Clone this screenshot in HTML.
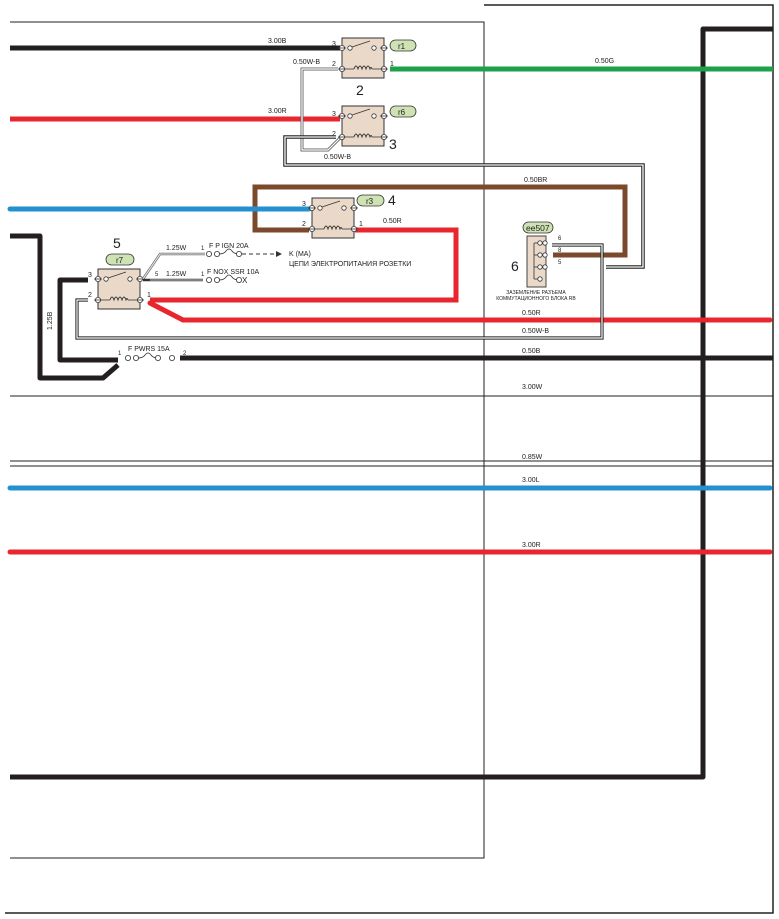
<!DOCTYPE html>
<html><head><meta charset="utf-8"><style>
html,body{margin:0;padding:0;background:#fff;}
svg{display:block;}
text{font-family:"Liberation Sans","DejaVu Sans",sans-serif;fill:#222;}
</style></head><body>
<svg width="779" height="919" viewBox="0 0 779 919" xmlns="http://www.w3.org/2000/svg">
<defs>
<g id="relay">
  <rect x="0" y="0" width="42" height="40" fill="#ead9c8" stroke="#333" stroke-width="1"/>
  <circle cx="0" cy="10" r="2.6" fill="#fff" stroke="#333" stroke-width="0.8"/>
  <circle cx="0" cy="31" r="2.6" fill="#fff" stroke="#333" stroke-width="0.8"/>
  <circle cx="42" cy="10" r="2.6" fill="#fff" stroke="#333" stroke-width="0.8"/>
  <circle cx="42" cy="31" r="2.6" fill="#fff" stroke="#333" stroke-width="0.8"/>
  <line x1="-4" y1="10" x2="4" y2="10" stroke="#333" stroke-width="0.8"/>
  <line x1="-4" y1="31" x2="4" y2="31" stroke="#333" stroke-width="0.8"/>
  <line x1="38" y1="10" x2="46" y2="10" stroke="#333" stroke-width="0.8"/>
  <line x1="38" y1="31" x2="46" y2="31" stroke="#333" stroke-width="0.8"/>
  <circle cx="8" cy="10" r="2.2" fill="#fff" stroke="#333" stroke-width="0.8"/>
  <line x1="10" y1="9" x2="28" y2="3" stroke="#333" stroke-width="0.8"/>
  <circle cx="32" cy="10" r="2.2" fill="#fff" stroke="#333" stroke-width="0.8"/>
  <path d="M4 31 H12 M30 31 H38" stroke="#333" stroke-width="0.8"/>
  <path d="M12 31 q2 -6 4 0 q2 -6 4 0 q2 -6 4 0 q2 -6 4 0 q1 -3 2 0" fill="none" stroke="#333" stroke-width="0.9"/>
</g>
<g id="fuse">
  <circle cx="0" cy="0" r="2.6" fill="#fff" stroke="#333" stroke-width="0.8"/>
  <circle cx="8" cy="0" r="2.6" fill="#fff" stroke="#333" stroke-width="0.8"/>
  <path d="M10 0 q5 0 7 -3 q3 -4 6 0 q2 3 7 3" fill="none" stroke="#333" stroke-width="0.8"/>
  <circle cx="30" cy="0" r="2.6" fill="#fff" stroke="#333" stroke-width="0.8"/>
</g>
</defs>

<!-- frames -->
<path d="M484 5 H773 V913 H5" fill="none" stroke="#222" stroke-width="1.5"/>
<path d="M10 22 H484 V858 H10" fill="none" stroke="#222" stroke-width="1"/>

<!-- thick black frame wire -->
<path d="M773 29 H703 V777 H10" fill="none" stroke="#231f20" stroke-width="5" stroke-linejoin="round"/>

<!-- lower thin lines -->
<line x1="10" y1="396" x2="773" y2="396" stroke="#222" stroke-width="1"/>
<text x="522" y="389" font-size="7">3.00W</text>
<line x1="10" y1="461" x2="773" y2="461" stroke="#222" stroke-width="1"/>
<line x1="10" y1="466" x2="773" y2="466" stroke="#222" stroke-width="1"/>
<text x="522" y="459" font-size="7">0.85W</text>
<line x1="10" y1="488" x2="770" y2="488" stroke="#2391cf" stroke-width="5" stroke-linecap="round"/>
<text x="522" y="482" font-size="7">3.00L</text>
<line x1="10" y1="552" x2="770" y2="552" stroke="#e8262d" stroke-width="5" stroke-linecap="round"/>
<text x="522" y="547" font-size="7">3.00R</text>

<!-- top wires -->
<line x1="10" y1="48" x2="340" y2="48" stroke="#231f20" stroke-width="5"/>
<text x="268" y="43" font-size="7">3.00B</text>
<line x1="390" y1="69" x2="773" y2="69" stroke="#1ea14a" stroke-width="5"/>
<text x="595" y="63" font-size="7">0.50G</text>
<line x1="10" y1="119" x2="340" y2="119" stroke="#e8262d" stroke-width="5"/>
<text x="268" y="113" font-size="7">3.00R</text>

<!-- gray double 0.50W-B -->
<path d="M338 69 H302 V150 H328 L340 138" fill="none" stroke="#666" stroke-width="3"/>
<path d="M338 69 H302 V150 H328 L340 138" fill="none" stroke="#fff" stroke-width="1.2"/>
<text x="293" y="64" font-size="7">0.50W-B</text>
<text x="324" y="159" font-size="7">0.50W-B</text>

<!-- black double from relay 3 to connector 6 pin5 -->
<path d="M336 137 H285 V165 H643 V267 H606" fill="none" stroke="#222" stroke-width="3.5"/>
<path d="M336 137 H285 V165 H643 V267 H606" fill="none" stroke="#fff" stroke-width="1.3"/>

<!-- brown -->
<path d="M309 230 H255 V187 H625 V255 H553" fill="none" stroke="#7b4a2d" stroke-width="5" stroke-linejoin="miter"/>
<text x="524" y="182" font-size="7">0.50BR</text>

<!-- blue -->
<line x1="10" y1="209" x2="309" y2="209" stroke="#2391cf" stroke-width="5" stroke-linecap="round"/>

<!-- red from relay 4 to relay 5 -->
<path d="M355 230 H456 V300 H150" fill="none" stroke="#e8262d" stroke-width="5"/>
<text x="383" y="223" font-size="7">0.50R</text>
<path d="M150 303 L183 320 H770" fill="none" stroke="#e8262d" stroke-width="5" stroke-linecap="round"/>
<text x="522" y="315" font-size="7">0.50R</text>

<!-- thin black 0.50W-B double -->
<path d="M88 300 H77 V338 H602 V245 H552" fill="none" stroke="#222" stroke-width="3.2"/>
<path d="M88 300 H77 V338 H602 V245 H552" fill="none" stroke="#fff" stroke-width="1.2"/>
<text x="522" y="333" font-size="7">0.50W-B</text>

<!-- 1.25B thick -->
<path d="M10 236 H40 V378 H103 L118 365" fill="none" stroke="#231f20" stroke-width="5" stroke-linejoin="round"/>
<path d="M88 280 H60 V360 H118" fill="none" stroke="#231f20" stroke-width="5" stroke-linejoin="round"/>
<text x="0" y="0" font-size="7" transform="translate(52 330) rotate(-90)">1.25B</text>
<!-- 0.50B -->
<line x1="180" y1="358" x2="773" y2="358" stroke="#231f20" stroke-width="5"/>
<text x="522" y="353" font-size="7">0.50B</text>
<use href="#fuse" x="128" y="358"/>
<circle cx="172" cy="358" r="2.6" fill="#fff" stroke="#333" stroke-width="0.8"/>
<text x="118" y="355" font-size="6">1</text>
<text x="183" y="355" font-size="6">2</text>
<text x="128" y="351" font-size="7">F PWRS 15A</text>

<!-- relays -->
<use href="#relay" x="342" y="38"/>
<text x="332" y="46" font-size="7">3</text>
<text x="332" y="66" font-size="7">2</text>
<text x="390" y="66" font-size="7">1</text>
<text x="356" y="95" font-size="14">2</text>
<rect x="390" y="40" width="26" height="11" rx="5.5" fill="#cfe2b3" stroke="#333" stroke-width="0.8"/>
<text x="398" y="49" font-size="8">r1</text>

<use href="#relay" x="342" y="106"/>
<text x="332" y="116" font-size="7">3</text>
<text x="332" y="136" font-size="7">2</text>
<text x="389" y="149" font-size="14">3</text>
<rect x="390" y="106" width="26" height="11" rx="5.5" fill="#cfe2b3" stroke="#333" stroke-width="0.8"/>
<text x="398" y="115" font-size="8">r6</text>

<use href="#relay" x="312" y="198"/>
<text x="302" y="206" font-size="7">3</text>
<text x="302" y="226" font-size="7">2</text>
<text x="359" y="226" font-size="7">1</text>
<text x="388" y="205" font-size="14">4</text>
<rect x="357" y="195" width="27" height="11" rx="5.5" fill="#cfe2b3" stroke="#333" stroke-width="0.8"/>
<text x="366" y="204" font-size="8">r3</text>

<use href="#relay" x="98" y="269"/>
<text x="88" y="277" font-size="7">3</text>
<text x="88" y="297" font-size="7">2</text>
<text x="147" y="297" font-size="7">1</text>
<text x="113" y="248" font-size="14">5</text>
<rect x="106" y="254" width="28" height="11" rx="5.5" fill="#cfe2b3" stroke="#333" stroke-width="0.8"/>
<text x="116" y="263" font-size="8">r7</text>

<!-- fuses near relay 5 -->
<path d="M143 279 L160 254 H205" fill="none" stroke="#777" stroke-width="2.5"/>
<path d="M143 279 L160 254 H205" fill="none" stroke="#fff" stroke-width="0.8"/>
<text x="166" y="250" font-size="7">1.25W</text>
<text x="201" y="250" font-size="6">1</text>
<use href="#fuse" x="209" y="254"/>
<text x="209" y="248" font-size="7">F P IGN 20A</text>
<line x1="242" y1="254" x2="276" y2="254" stroke="#333" stroke-width="0.9" stroke-dasharray="4 3"/>
<path d="M276 251 L282 254 L276 257 Z" fill="#333"/>
<text x="289" y="256" font-size="7">K (MA)</text>
<text x="289" y="266" font-size="7">ЦЕПИ ЭЛЕКТРОПИТАНИЯ РОЗЕТКИ</text>

<path d="M143 280 L150 280 H203" fill="none" stroke="#333" stroke-width="2.5"/>
<path d="M150 280 H203" fill="none" stroke="#fff" stroke-width="0.8"/>
<text x="155" y="276" font-size="6">5</text>
<text x="166" y="276" font-size="7">1.25W</text>
<text x="201" y="276" font-size="6">1</text>
<use href="#fuse" x="209" y="280"/>
<text x="207" y="274" font-size="7">F NOX SSR 10A</text>
<text x="242" y="283" font-size="8">X</text>

<!-- connector 6 -->
<rect x="527" y="236" width="19" height="51" fill="#ead9c8" stroke="#333" stroke-width="0.9"/>
<line x1="534" y1="243" x2="534" y2="279" stroke="#333" stroke-width="0.8"/>
<g stroke="#333" stroke-width="0.8" fill="#fff">
<circle cx="540" cy="243" r="2.2"/><circle cx="545" cy="243" r="2.2"/>
<circle cx="540" cy="255" r="2.2"/><circle cx="545" cy="255" r="2.2"/>
<circle cx="540" cy="267" r="2.2"/><circle cx="545" cy="267" r="2.2"/>
<circle cx="540" cy="279" r="2.2"/>
<line x1="534" y1="243" x2="538" y2="243"/><line x1="534" y1="255" x2="538" y2="255"/>
<line x1="534" y1="267" x2="538" y2="267"/><line x1="534" y1="279" x2="538" y2="279"/>
</g>
<rect x="523" y="222" width="30" height="11" rx="5.5" fill="#cfe2b3" stroke="#333" stroke-width="0.8"/>
<text x="526" y="231" font-size="8.5">ee507</text>
<text x="558" y="240" font-size="6">6</text>
<text x="558" y="252" font-size="6">8</text>
<text x="558" y="264" font-size="6">5</text>
<text x="511" y="271" font-size="14">6</text>
<text x="536" y="294" font-size="5" text-anchor="middle">ЗАЗЕМЛЕНИЕ РАЗЪЕМА</text>
<text x="536" y="300" font-size="5" text-anchor="middle">КОММУТАЦИОННОГО БЛОКА RB</text>
</svg>
</body></html>
